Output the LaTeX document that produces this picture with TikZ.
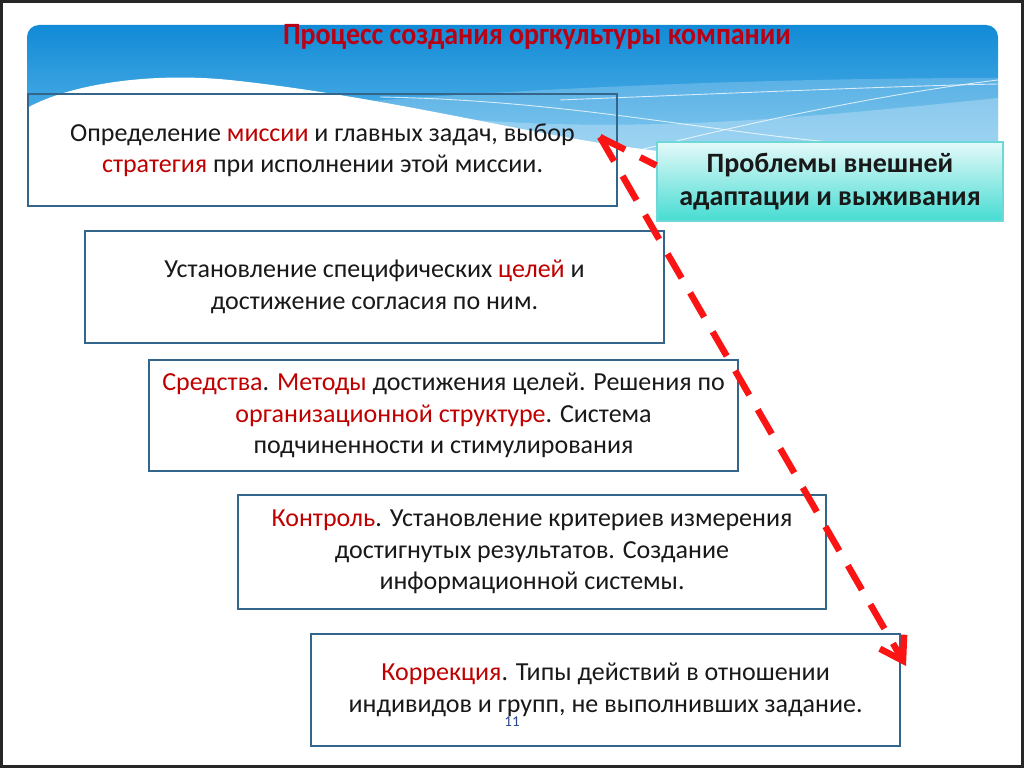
\documentclass[tikz,border=0pt]{standalone}
\usepackage{fontspec}
\setmainfont{Carlito}
\newfontfamily\titlefont[FakeStretch=0.9]{Carlito}
\usetikzlibrary{arrows.meta,calc}

\definecolor{hdrTop}{RGB}{18,138,214}
\definecolor{hdrBot}{RGB}{115,198,240}
\definecolor{boxline}{RGB}{52,102,140}
\definecolor{accent}{RGB}{192,0,0}
\definecolor{titlered}{RGB}{185,0,20}
\definecolor{arrowred}{RGB}{250,20,20}
\definecolor{tealTop}{RGB}{228,249,249}
\definecolor{tealBot}{RGB}{70,220,210}
\definecolor{tealLine}{RGB}{110,215,215}
\definecolor{pagenum}{RGB}{40,70,140}

\newcommand{\hl}[1]{\textcolor{accent}{#1}}

\begin{document}
\begin{tikzpicture}[x=1pt,y=-1pt,
  stage/.style={draw=boxline, line width=1.6pt, align=center, inner sep=0pt,
    font=\fontsize{26}{31.5}\selectfont, text=black!90},
  probbox/.style={draw=tealLine, line width=1.4pt, top color=tealTop, bottom color=tealBot,
    align=center, inner sep=0pt, font=\fontsize{28}{33}\selectfont\bfseries, text=black!90},
  redline/.style={draw=arrowred, line width=6.5pt, dash pattern=on 28pt off 17pt},
  waveline/.style={draw=white, line width=0.9pt, opacity=0.75}
]
\useasboundingbox (0,0) rectangle (1024,768);
\fill[white] (0,0) rectangle (1024,768);

% header background
\path[top color=hdrTop, bottom color=hdrBot, rounded corners=12pt] (27,25) rectangle (998,185);
\fill[white, opacity=0.2] (27,135) .. controls (300,100) and (650,78) .. (998,78) -- (998,185) -- (27,185) -- cycle;
\fill[white, opacity=0.25] (380,110) .. controls (600,140) and (800,118) .. (998,98) -- (998,185) -- (380,185) -- cycle;
\draw[waveline] (380,97) .. controls (560,100) and (700,130) .. (830,142);
\draw[waveline] (640,150) .. controls (780,115) and (900,92) .. (998,80);
\draw[waveline] (560,100) .. controls (760,92) and (900,86) .. (998,84);
\fill[white] (27,108) .. controls (70,84) and (150,72) .. (230,80) .. controls (380,96) and (520,132) .. (620,146)
  .. controls (760,166) and (900,172) .. (998,168) -- (998,190) -- (27,190) -- cycle;

% frame
\draw[black!85, line width=3pt] (1.5,1.5) rectangle (1022.5,766.5);

% title
\node[font=\titlefont\fontsize{31}{33}\selectfont\bfseries, text=titlered] (title) at (537,37)
  {Процесс создания оргкультуры компании};

% stages
\node[stage, minimum width=589pt, minimum height=112pt] (b1) at (322.5,150)
  {Определение \hl{миссии} и главных задач, выбор\\\hl{стратегия} при исполнении этой миссии.};
\node[stage, minimum width=579pt, minimum height=112pt] (b2) at (374.5,287)
  {Установление специфических \hl{целей} и\\достижение согласия по ним.};
\node[stage, minimum width=589pt, minimum height=111pt] (b3) at (443.5,415.5)
  {\hl{Средства}. \hl{Методы} достижения целей. Решения по\\\hl{организационной структуре}. Система\\подчиненности и стимулирования};
\node[stage, minimum width=588pt, minimum height=114pt] (b4) at (532,552)
  {\hl{Контроль}. Установление критериев измерения\\достигнутых результатов. Создание\\информационной системы.};
\node[stage, minimum width=589pt, minimum height=112pt] (b5) at (605.5,690)
  {\hl{Коррекция}. Типы действий в отношении\\индивидов и групп, не выполнивших задание.};

% problems box
\node[probbox, minimum width=346pt, minimum height=79pt] (g) at (830,181.5)
  {Проблемы внешней\\адаптации и выживания};

% arrows
\coordinate (s) at (600,137);
\coordinate (e) at (906,666);
\draw[redline, -{Straight Barb[length=22pt,width=28pt,line width=6.5pt]}] (s) -- (e);
\draw[redline] (s) -- ($(g.north west)!0.3!(g.south west)$);

% page number
\node[font=\fontsize{15}{17}\selectfont, text=pagenum] (pn) at (512,722) {11};
\end{tikzpicture}
\end{document}
